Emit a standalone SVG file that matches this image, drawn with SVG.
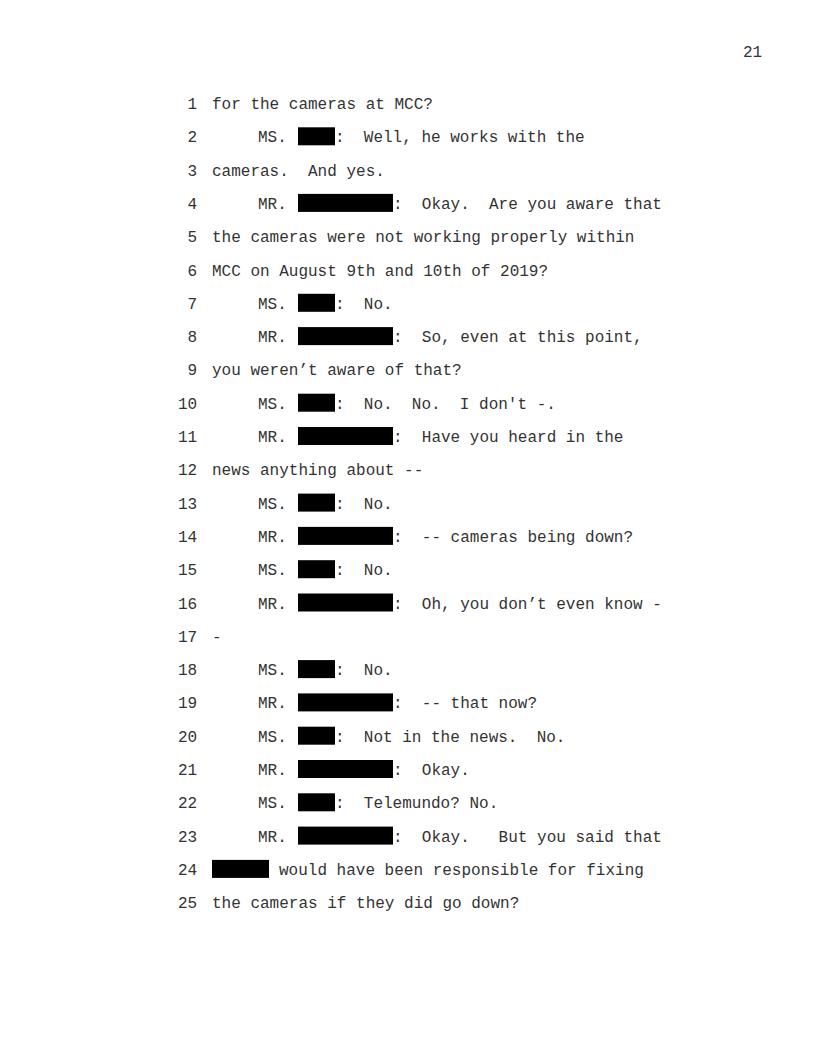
<svg xmlns="http://www.w3.org/2000/svg" width="816" height="1056" viewBox="0 0 816 1056">
<style>
text{font-family:"Liberation Mono","Courier New",monospace;font-size:16px;fill:#333;white-space:pre}
.r{fill:#000}
</style>
<rect width="816" height="1056" fill="#fff"/>
<text x="743" y="57">21</text>
<g id="numbers">
<text x="187.6" y="109">1</text>
<text x="187.6" y="142.3">2</text>
<text x="187.6" y="175.6">3</text>
<text x="187.6" y="208.9">4</text>
<text x="187.6" y="242.2">5</text>
<text x="187.6" y="275.5">6</text>
<text x="187.6" y="308.8">7</text>
<text x="187.6" y="342.1">8</text>
<text x="187.6" y="375.4">9</text>
<text x="178" y="408.7">10</text>
<text x="178" y="442">11</text>
<text x="178" y="475.3">12</text>
<text x="178" y="508.6">13</text>
<text x="178" y="541.9">14</text>
<text x="178" y="575.2">15</text>
<text x="178" y="608.5">16</text>
<text x="178" y="641.8">17</text>
<text x="178" y="675.1">18</text>
<text x="178" y="708.4">19</text>
<text x="178" y="741.7">20</text>
<text x="178" y="775">21</text>
<text x="178" y="808.3">22</text>
<text x="178" y="841.6">23</text>
<text x="178" y="874.9">24</text>
<text x="178" y="908.2">25</text>
</g>
<g id="lines">
<text x="212" y="109">for the cameras at MCC?</text>
<text x="258" y="142.3">MS.</text><rect class="r" x="298" y="127.3" width="37" height="18"/><text x="335" y="142.3">:  Well, he works with the</text>
<text x="212" y="175.6">cameras.  And yes.</text>
<text x="258" y="208.9">MR.</text><rect class="r" x="298" y="193.9" width="95" height="18"/><text x="393" y="208.9">:  Okay.  Are you aware that</text>
<text x="212" y="242.2">the cameras were not working properly within</text>
<text x="212" y="275.5">MCC on August 9th and 10th of 2019?</text>
<text x="258" y="308.8">MS.</text><rect class="r" x="298" y="293.8" width="37" height="18"/><text x="335" y="308.8">:  No.</text>
<text x="258" y="342.1">MR.</text><rect class="r" x="298" y="327.1" width="95" height="18"/><text x="393" y="342.1">:  So, even at this point,</text>
<text x="212" y="375.4">you weren’t aware of that?</text>
<text x="258" y="408.7">MS.</text><rect class="r" x="298" y="393.7" width="37" height="18"/><text x="335" y="408.7">:  No.  No.  I don't -.</text>
<text x="258" y="442">MR.</text><rect class="r" x="298" y="427" width="95" height="18"/><text x="393" y="442">:  Have you heard in the</text>
<text x="212" y="475.3">news anything about --</text>
<text x="258" y="508.6">MS.</text><rect class="r" x="298" y="493.6" width="37" height="18"/><text x="335" y="508.6">:  No.</text>
<text x="258" y="541.9">MR.</text><rect class="r" x="298" y="526.9" width="95" height="18"/><text x="393" y="541.9">:  -- cameras being down?</text>
<text x="258" y="575.2">MS.</text><rect class="r" x="298" y="560.2" width="37" height="18"/><text x="335" y="575.2">:  No.</text>
<text x="258" y="608.5">MR.</text><rect class="r" x="298" y="593.5" width="95" height="18"/><text x="393" y="608.5">:  Oh, you don’t even know -</text>
<text x="212" y="641.8">-</text>
<text x="258" y="675.1">MS.</text><rect class="r" x="298" y="660.1" width="37" height="18"/><text x="335" y="675.1">:  No.</text>
<text x="258" y="708.4">MR.</text><rect class="r" x="298" y="693.4" width="95" height="18"/><text x="393" y="708.4">:  -- that now?</text>
<text x="258" y="741.7">MS.</text><rect class="r" x="298" y="726.7" width="37" height="18"/><text x="335" y="741.7">:  Not in the news.  No.</text>
<text x="258" y="775">MR.</text><rect class="r" x="298" y="760" width="95" height="18"/><text x="393" y="775">:  Okay.</text>
<text x="258" y="808.3">MS.</text><rect class="r" x="298" y="793.3" width="37" height="18"/><text x="335" y="808.3">:  Telemundo? No.</text>
<text x="258" y="841.6">MR.</text><rect class="r" x="298" y="826.6" width="95" height="18"/><text x="393" y="841.6">:  Okay.   But you said that</text>
<rect class="r" x="212" y="859.9" width="57" height="18"/><text x="279" y="874.9">would have been responsible for fixing</text>
<text x="212" y="908.2">the cameras if they did go down?</text>
</g>
</svg>
